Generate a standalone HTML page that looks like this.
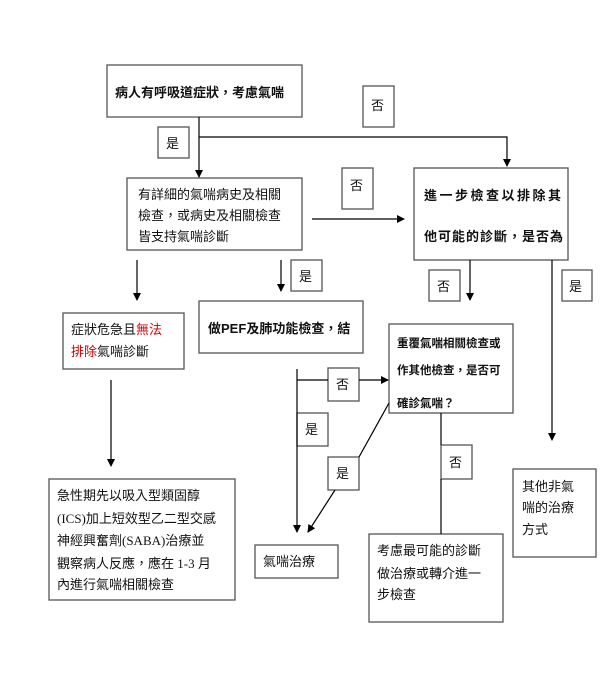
<!DOCTYPE html>
<html><head><meta charset="utf-8"><style>
html,body{margin:0;padding:0;background:#fff;}
svg{display:block;}
text{font-family:"Liberation Serif","Noto Sans CJK TC",serif;fill:#111;}
.b{font-weight:bold;}
</style></head><body>
<svg width="611" height="679" viewBox="0 0 611 679" xmlns="http://www.w3.org/2000/svg">
<defs><marker id="a" markerWidth="8" markerHeight="8" refX="7" refY="4" orient="auto" markerUnits="userSpaceOnUse"><path d="M0,0 L8,4 L0,8 z" fill="#000"/></marker>
<clipPath id="c"><rect x="389" y="324" width="124" height="88"/></clipPath></defs>
<g fill="#fff" stroke="#555" stroke-width="1.3">
<rect x="107" y="65" width="195" height="52"/>
<rect x="363" y="86" width="31" height="41"/>
<rect x="158" y="127" width="31" height="31"/>
<rect x="127" y="178" width="175" height="72"/>
<rect x="342" y="168" width="31" height="41"/>
<rect x="414" y="168" width="154" height="92"/>
<rect x="291" y="260" width="31" height="31"/>
<rect x="429" y="270" width="31" height="31"/>
<rect x="562" y="270" width="30" height="31"/>
<rect x="199" y="301" width="164" height="52"/>
<rect x="63" y="313" width="121" height="56"/>
<rect x="389" y="324" width="124" height="89"/>
<rect x="328" y="368" width="31" height="33"/>
<rect x="297" y="413" width="31" height="33"/>
<rect x="328" y="457" width="31" height="33"/>
<rect x="441" y="445" width="31" height="34"/>
<rect x="49" y="479" width="186" height="121"/>
<rect x="513" y="469" width="83" height="88"/>
<rect x="255" y="545" width="83" height="33"/>
<rect x="369" y="534" width="134" height="88"/>
</g>
<g stroke="#000" stroke-width="1.2" fill="none">
<line x1="199" y1="117" x2="199" y2="177" marker-end="url(#a)"/>
<polyline points="199,137 507,137 507,166" marker-end="url(#a)"/>
<line x1="312" y1="219" x2="404" y2="219" marker-end="url(#a)"/>
<line x1="137" y1="260" x2="137" y2="300" marker-end="url(#a)"/>
<line x1="281" y1="260" x2="281" y2="291" marker-end="url(#a)"/>
<line x1="470" y1="260" x2="470" y2="300" marker-end="url(#a)"/>
<line x1="552" y1="260" x2="552" y2="440" marker-end="url(#a)"/>
<line x1="111" y1="380" x2="111" y2="466" marker-end="url(#a)"/>
<line x1="297" y1="369" x2="297" y2="532" marker-end="url(#a)"/>
<line x1="297" y1="380" x2="328" y2="380"/>
<line x1="359" y1="380" x2="388" y2="380" marker-end="url(#a)"/>
<line x1="389" y1="403" x2="359" y2="457"/>
<line x1="335" y1="490" x2="308" y2="532" marker-end="url(#a)"/>
<line x1="441" y1="413" x2="441" y2="445"/>
<line x1="441" y1="479" x2="441" y2="534"/>
</g>
<g font-size="13">
<text x="115" y="97" class="b" font-size="13">病人有呼吸道症狀，考慮氣喘</text>
<text x="371" y="110">否</text>
<text x="166" y="148">是</text>
<text x="350" y="190">否</text>
<text x="138" y="199">有詳細的氣喘病史及相關</text>
<text x="138" y="220">檢查，或病史及相關檢查</text>
<text x="138" y="241">皆支持氣喘診斷</text>
<text x="424" y="200" class="b" letter-spacing="2.5">進一步檢查以排除其</text>
<text x="424" y="241" class="b" letter-spacing="1">他可能的診斷，是否為</text>
<text x="299" y="281">是</text>
<text x="437" y="291">否</text>
<text x="569" y="291">是</text>
<text x="208" y="333" class="b">做<tspan font-family="Liberation Sans, sans-serif">PEF</tspan>及肺功能檢查，結</text>
<text x="71" y="334">症狀危急且<tspan fill="#c00">無法</tspan></text>
<text x="71" y="356"><tspan fill="#c00">排除</tspan>氣喘診斷</text>
<text x="336" y="389">否</text>
<text x="305" y="434">是</text>
<text x="336" y="478">是</text>
<text x="449" y="467">否</text>
<text x="57" y="500">急性期先以吸入型類固醇</text>
<text x="57" y="523">(ICS)加上短效型乙二型交感</text>
<text x="57" y="545">神經興奮劑(SABA)治療並</text>
<text x="57" y="568">觀察病人反應，應在 1-3 月</text>
<text x="57" y="589">內進行氣喘相關檢查</text>
<text x="522" y="491">其他非氣</text>
<text x="522" y="512">喘的治療</text>
<text x="522" y="534">方式</text>
<text x="263" y="566">氣喘治療</text>
<text x="377" y="555">考慮最可能的診斷</text>
<text x="377" y="578">做治療或轉介進一</text>
<text x="377" y="599">步檢查</text>
</g>
<g font-size="11.5" class="b">
<text x="397" y="347">重覆氣喘相關檢查或</text>
<text x="397" y="374">作其他檢查，是否可</text>
<text x="397" y="407" clip-path="url(#c)">確診氣喘？</text>
</g>
</svg>
</body></html>
